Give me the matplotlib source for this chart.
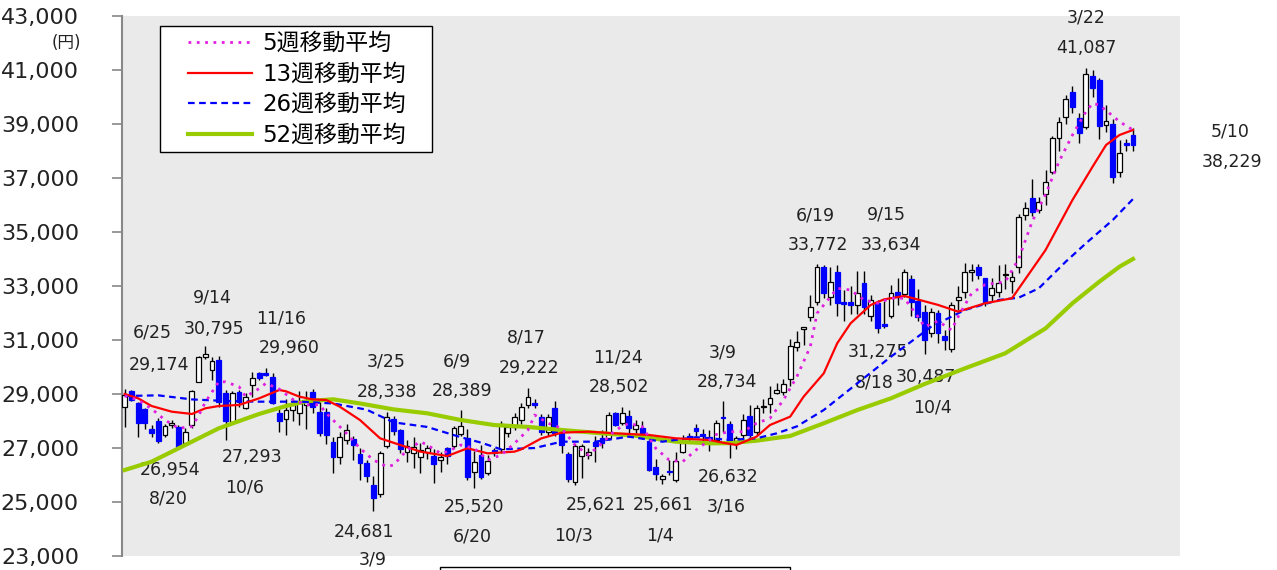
import matplotlib
matplotlib.use("Agg")
import matplotlib.pyplot as plt
from matplotlib.patches import Rectangle
from matplotlib.ticker import FuncFormatter

plt.rcParams['font.family'] = ['DejaVu Sans', 'Noto Sans CJK JP']

# weekly OHLC, 2021/6/25 .. 2024/5/10
opens = [28507, 29111, 28678, 28444, 27690, 28012, 27482, 27850, 27778, 27170,
         27852, 29456, 30360, 29900, 30260, 29037, 27975, 29085, 28500, 29333,
         29765, 29790, 29640, 28310, 28063, 28400, 28310, 28600, 29085, 28345,
         28345, 27234, 26680, 27296, 27320, 26778, 26456, 25630, 25296, 27074,
         28062, 27667, 26865, 26830, 26680, 26865, 26704, 26550, 26990, 27074,
         27518, 27358, 26123, 26741, 26085, 26926, 26951, 27543, 27765, 28037,
         28593, 28660, 28160, 27580, 28470, 27543, 26778, 25753, 26704, 26741,
         27234, 27385, 27383, 28284, 27926, 28197, 27692, 27729, 27271, 26285,
         25840, 26160, 25815, 26865, 27445, 27729, 27518, 27400, 27296, 28160,
         27890, 27271, 27482, 28185, 27605, 28508, 28617, 29050, 29085, 29543,
         30735, 31400, 31864, 32395, 33700, 32605, 33510, 32395, 32420, 32300,
         33125, 31890, 32360, 31600, 31902, 32790, 32705, 33250, 32457, 32050,
         31260, 32000, 31150, 30667, 32481, 32790, 33530, 33715, 33280, 32667,
         32780, 33420, 33180, 33720, 35630, 36250, 35815, 36396, 37220, 38470,
         39270, 40200, 39230, 38900, 40780, 40630, 38980, 39000, 37235, 38290,
         38593]
highs = [29174, 29148, 28720, 28500, 27850, 28100, 27900, 28050, 27850, 27741,
         29150, 30420, 30795, 30380, 30400, 29150, 29100, 29150, 29050, 29800,
         29830, 29960, 29790, 28530, 28800, 28800, 29100, 29100, 29200, 28700,
         28500, 27400, 27600, 27900, 27450, 27000, 26550, 25970, 26900, 28338,
         28200, 27700, 27300, 27400, 27200, 27100, 26950, 26850, 27050, 27800,
         28389, 27700, 26900, 27100, 26750, 27000, 28000, 27850, 28300, 28650,
         29222, 28800, 28250, 28250, 28750, 27600, 26850, 27150, 27150, 27000,
         27450, 27650, 28350, 28350, 28502, 28400, 28050, 28000, 27300, 26580,
         26050, 26550, 26850, 27500, 27550, 27900, 27700, 27650, 28050, 28734,
         28000, 27450, 28250, 28600, 28600, 28800, 29300, 29400, 29550, 31050,
         31350, 31500, 32650, 33800, 33772, 33700, 33760, 32850, 33000, 33550,
         33550, 32650, 32500, 32450, 33050, 33300, 33634, 33400, 32900, 32300,
         32200, 32100, 31370, 32400, 33000, 33850, 33800, 33800, 33300, 33300,
         33777, 33800, 33550, 35650, 36100, 36963, 36300, 37300, 38550, 39250,
         40060, 40420, 39400, 41087, 41000, 40700, 39700, 39200, 38400, 38450,
         38850]
lows = [27778, 28740, 27419, 27700, 27400, 27200, 27400, 27750, 26954, 27100,
        27750, 29450, 30300, 29520, 28530, 27293, 27950, 28530, 28450, 28900,
        29520, 29650, 28620, 27600, 27500, 28000, 27850, 27700, 28300, 27450,
        27150, 26063, 26400, 27150, 26550, 25800, 25730, 24681, 25200, 27000,
        27500, 26800, 26500, 26250, 26060, 26600, 25692, 26100, 26400, 27000,
        27450, 25800, 25520, 25850, 26000, 26700, 26800, 27400, 27650, 27900,
        28500, 28500, 27500, 27450, 27450, 26800, 25750, 25621, 25900, 26600,
        26500, 27000, 27300, 27800, 27850, 27500, 27550, 27350, 26150, 25800,
        25661, 26000, 25750, 26800, 27200, 27450, 27150, 26900, 27200, 27600,
        26632, 26950, 27300, 27400, 27500, 28300, 28300, 29000, 28950, 29300,
        30600, 30800, 31700, 32300, 32550, 32300, 31900, 31700, 31950, 31950,
        31950, 31700, 31275, 31450, 31800, 32300, 32600, 31900, 31700, 30487,
        31100, 30900, 30630, 30550, 32100, 32550, 33200, 33250, 32250, 32400,
        32600, 32900, 32750, 33500, 35450, 35600, 35700, 36000, 37150, 38000,
        39000, 39400, 38280, 38800, 40000, 38430, 38700, 36800, 37050, 38000,
        38000]
closes = [28963, 28778, 27937, 27926, 27543, 27271, 27815, 27937, 27037, 27605,
          29111, 30383, 30480, 30220, 28716, 28012, 29025, 28716, 28900, 29580,
          29580, 29700, 28680, 28012, 28407, 28590, 28680, 28750, 28530, 27543,
          27480, 26680, 27420, 27667, 27110, 26456, 25963, 25137, 26802, 28160,
          27641, 26952, 27074, 27025, 26926, 26990, 26408, 26650, 26704, 27729,
          27815, 25915, 26493, 25915, 26530, 26803, 27890, 27790, 28160, 28530,
          28900, 28600, 27605, 28160, 27543, 27110, 25840, 27074, 27074, 26865,
          27074, 27175, 28222, 27852, 28284, 27729, 27852, 27482, 26185, 26037,
          25963, 26110, 26530, 27197, 27358, 27641, 27455, 27300, 27915, 28120,
          27234, 27358, 28037, 27482, 28470, 28555, 28864, 29148, 29360, 30790,
          30920, 31495, 32235, 33690, 32730, 33140, 32360, 32333, 32300, 32730,
          32210, 32480, 31430, 31520, 32730, 32605, 33528, 32420, 31865, 31000,
          32035, 31260, 31000, 32300, 32580, 33530, 33590, 33400, 32370, 32940,
          33125, 33450, 33350, 35570, 35900, 35730, 36123, 36863, 38470, 39060,
          39915, 39640, 38650, 40850, 40320, 38940, 39110, 37050, 37915, 38230,
          38229]

# moving averages (week index, value)
ma5_idx = [0, 2, 4, 6, 8, 10, 11, 12, 14, 15, 17, 18, 20, 21, 23, 25, 27, 29, 30, 31,
           33, 35, 37, 39, 40, 42, 44, 45, 47, 48, 50, 52, 54, 56, 58, 60, 61, 63, 65, 67,
           69, 71, 73, 75, 77, 79, 81, 83, 85, 87, 88, 90, 92, 94, 96, 98, 100, 102, 103, 105,
           106, 108, 110, 112, 114, 116, 118, 119, 121, 123, 124, 126, 128, 131, 133, 135, 137, 139, 141, 143,
           144, 145, 147, 148, 150]
ma5_val = [28930, 28778, 28450, 28037, 27730, 27800, 28200, 28700, 29456, 29450,
           29272, 28900, 29200, 29395, 29180, 28800, 28600, 28600, 28285, 28037,
           27543, 26990, 26556, 26310, 26370, 26926, 27234, 27111, 26802, 26865,
           27111, 26990, 26556, 26741, 27173, 27667, 28222, 27915, 27730, 27111,
           26741, 27173, 27667, 27915, 27790, 26990, 26556, 26493, 26926, 27296,
           27500, 27605, 27605, 27915, 28100, 28778, 29642, 30753, 31988, 32605,
           32915, 32852, 32481, 32360, 32545, 32545, 31865, 31494, 31700, 31370,
           31865, 32730, 33050, 33160, 34000, 35383, 36400, 37605, 38593, 39457,
           39765, 39700, 39300, 39085, 38778]

ma13_idx = [0, 2, 4, 7, 10, 12, 14, 17, 20, 23, 24, 26, 28, 30, 32, 35, 38, 41, 44, 48,
            51, 54, 58, 59, 62, 65, 69, 73, 78, 82, 87, 89, 91, 94, 96, 99, 101, 104, 106, 108,
            111, 113, 116, 118, 121, 124, 128, 132, 137, 141, 144, 146, 148, 150]
ma13_val = [29000, 28840, 28556, 28345, 28260, 28470, 28556, 28593, 28840, 29148,
            29100, 28900, 28800, 28778, 28530, 28037, 27358, 27111, 26865, 26704,
            26990, 26802, 26865, 26950, 27358, 27568, 27605, 27543, 27482, 27358,
            27296, 27197, 27111, 27420, 27852, 28160, 28900, 29765, 30877, 31620,
            32300, 32506, 32630, 32500, 32300, 32050, 32360, 32545, 34333, 36185,
            37420, 38222, 38593, 38778]

ma26_idx = [0, 5, 10, 15, 20, 26, 31, 36, 40, 45, 50, 53, 56, 61, 65, 70, 75, 80, 85, 90,
            94, 97, 100, 104, 109, 114, 120, 125, 130, 133, 136, 140, 143, 147, 150]
ma26_val = [28926, 28950, 28800, 28740, 28716, 28716, 28650, 28420, 27950, 27780,
            27400, 27200, 26950, 27000, 27234, 27234, 27420, 27234, 27400, 27300,
            27358, 27543, 27800, 28407, 29395, 30383, 31494, 32111, 32481, 32568,
            32915, 33900, 34580, 35445, 36220]

ma52_idx = [0, 4, 9, 14, 20, 24, 27, 31, 35, 40, 45, 50, 55, 60, 65, 71, 76, 82, 87, 90,
            94, 99, 104, 109, 114, 119, 125, 131, 137, 141, 145, 148, 150]
ma52_val = [26185, 26493, 27110, 27730, 28260, 28556, 28730, 28804, 28650, 28430,
            28285, 28037, 27850, 27780, 27667, 27543, 27456, 27234, 27173, 27180,
            27271, 27445, 27915, 28407, 28840, 29370, 29950, 30507, 31430, 32360,
            33160, 33715, 34000]

# labelled highs / lows: week index, price, date text
mark_idx = [0, 8, 12, 15, 21, 37, 39, 50, 52, 60, 67, 74, 80, 89, 90, 104, 112, 116, 119, 143, 150]
mark_price = [29174, 26954, 30795, 27293, 29960, 24681, 28338, 28389, 25520, 29222, 25621,
              28502, 25661, 28734, 26632, 33772, 31275, 33634, 30487, 41087, 38229]
mark_date = ['6/25', '8/20', '9/14', '10/6', '11/16', '3/9', '3/25', '6/9', '6/20', '8/17', '10/3',
             '11/24', '1/4', '3/9', '3/16', '6/19', '8/18', '9/15', '10/4', '3/22', '5/10']
# pixel offsets (right, down) of the value and date text from the point
val_off = [(34, -24), (-8, 21), (9, -17), (27, 17), (23, -20), (-9, 21), (0, -20), (1, -19),
           (0, 19), (1, -20), (21, 20), (-3, -20), (1, 21), (4, -19), (-2, 19), (-6, -20),
           (0, 19), (-13, -24), (1, 23), (0, -20), (99, 17)]
date_off = [(28, -57), (-10, 49), (7, -48), (19, 47), (15, -50), (-1, 49), (-1, -50), (-4, -49),
            (-2, 49), (-2, -51), (-1, 50), (-4, -50), (-2, 51), (0, -49), (-3, 49), (-8, -50),
            (-3, 50), (-18, -54), (8, 54), (0, -50), (97, -13)]

yticks = list(range(23000, 43001, 2000))

fig = plt.figure(figsize=(12.77, 5.70), dpi=100)
ax = fig.add_axes([122 / 1277, 14 / 570, 1058 / 1277, 540 / 570])
ax.set_facecolor('#eaeaea')

x = list(range(len(opens)))
ax.vlines(x, lows, highs, color='black', lw=1, zorder=2)
up = [c >= o for o, c in zip(opens, closes)]
body_lo = [min(o, c) for o, c in zip(opens, closes)]
body_h = [max(abs(c - o), 25) for o, c in zip(opens, closes)]
ax.bar(x, body_h, bottom=body_lo, width=0.72,
       color=['white' if u else '#0000ff' for u in up],
       edgecolor=['black' if u else '#0000ff' for u in up], linewidth=0.9, zorder=3)

ax.plot(ma52_idx, ma52_val, color='#99cc00', lw=3, zorder=4, label='52週移動平均')
ax.plot(ma26_idx, ma26_val, color='#0000ff', lw=1.6, ls=(0, (3, 2)), zorder=4, label='26週移動平均')
ax.plot(ma13_idx, ma13_val, color='#ff0000', lw=1.6, zorder=4, label='13週移動平均')
ax.plot(ma5_idx, ma5_val, color='#e020e0', lw=2, ls=(0, (1, 2)), zorder=4, label='5週移動平均')

for i in range(len(mark_idx)):
    ax.annotate(f'{mark_price[i]:,}', xy=(mark_idx[i], mark_price[i]),
                xytext=(val_off[i][0], -val_off[i][1]), textcoords='offset pixels',
                ha='center', va='center', fontsize=12.5, color='#222222', annotation_clip=False)
    ax.annotate(mark_date[i], xy=(mark_idx[i], mark_price[i]),
                xytext=(date_off[i][0], -date_off[i][1]), textcoords='offset pixels',
                ha='center', va='center', fontsize=12.5, color='#222222', annotation_clip=False)

ax.set_xlim(-0.4, 157.0)
ax.set_ylim(23000, 43000)
ax.set_yticks(yticks)
ax.yaxis.set_major_formatter(FuncFormatter(lambda v, p: f'{int(v):,}'))
ax.tick_params(axis='y', labelsize=16, length=7, width=1.2, color='#888888', pad=24,
               labelcolor='#222222')
ax.set_xticks([])
for s in ['top', 'right', 'bottom']:
    ax.spines[s].set_visible(False)
ax.spines['left'].set_color('#888888')
ax.spines['left'].set_linewidth(1.5)

# legend box drawn separately so the padding matches the original
ax.add_patch(Rectangle((38 / 1058, 404 / 540), 272 / 1058, 126 / 540, transform=ax.transAxes,
                       facecolor='white', edgecolor='black', lw=1, zorder=5))
h, l = ax.get_legend_handles_labels()
leg = ax.legend(h[::-1], l[::-1], loc='upper left', bbox_to_anchor=(66 / 1058, 524 / 540),
                borderaxespad=0, borderpad=0, fontsize=16.5, handlelength=2.8,
                handletextpad=0.45, labelspacing=0.33, frameon=False)
leg.set_zorder(6)

fig.text(66 / 1277, 1 - 43 / 570, '(円)', ha='center', va='center', fontsize=12, color='#222222')
fig.add_artist(Rectangle((440 / 1277, -0.01), 350 / 1277, 0.01 + 3 / 570,
                         transform=fig.transFigure, fill=False, ec='black', lw=1))

fig.savefig('out.png', dpi=100)
